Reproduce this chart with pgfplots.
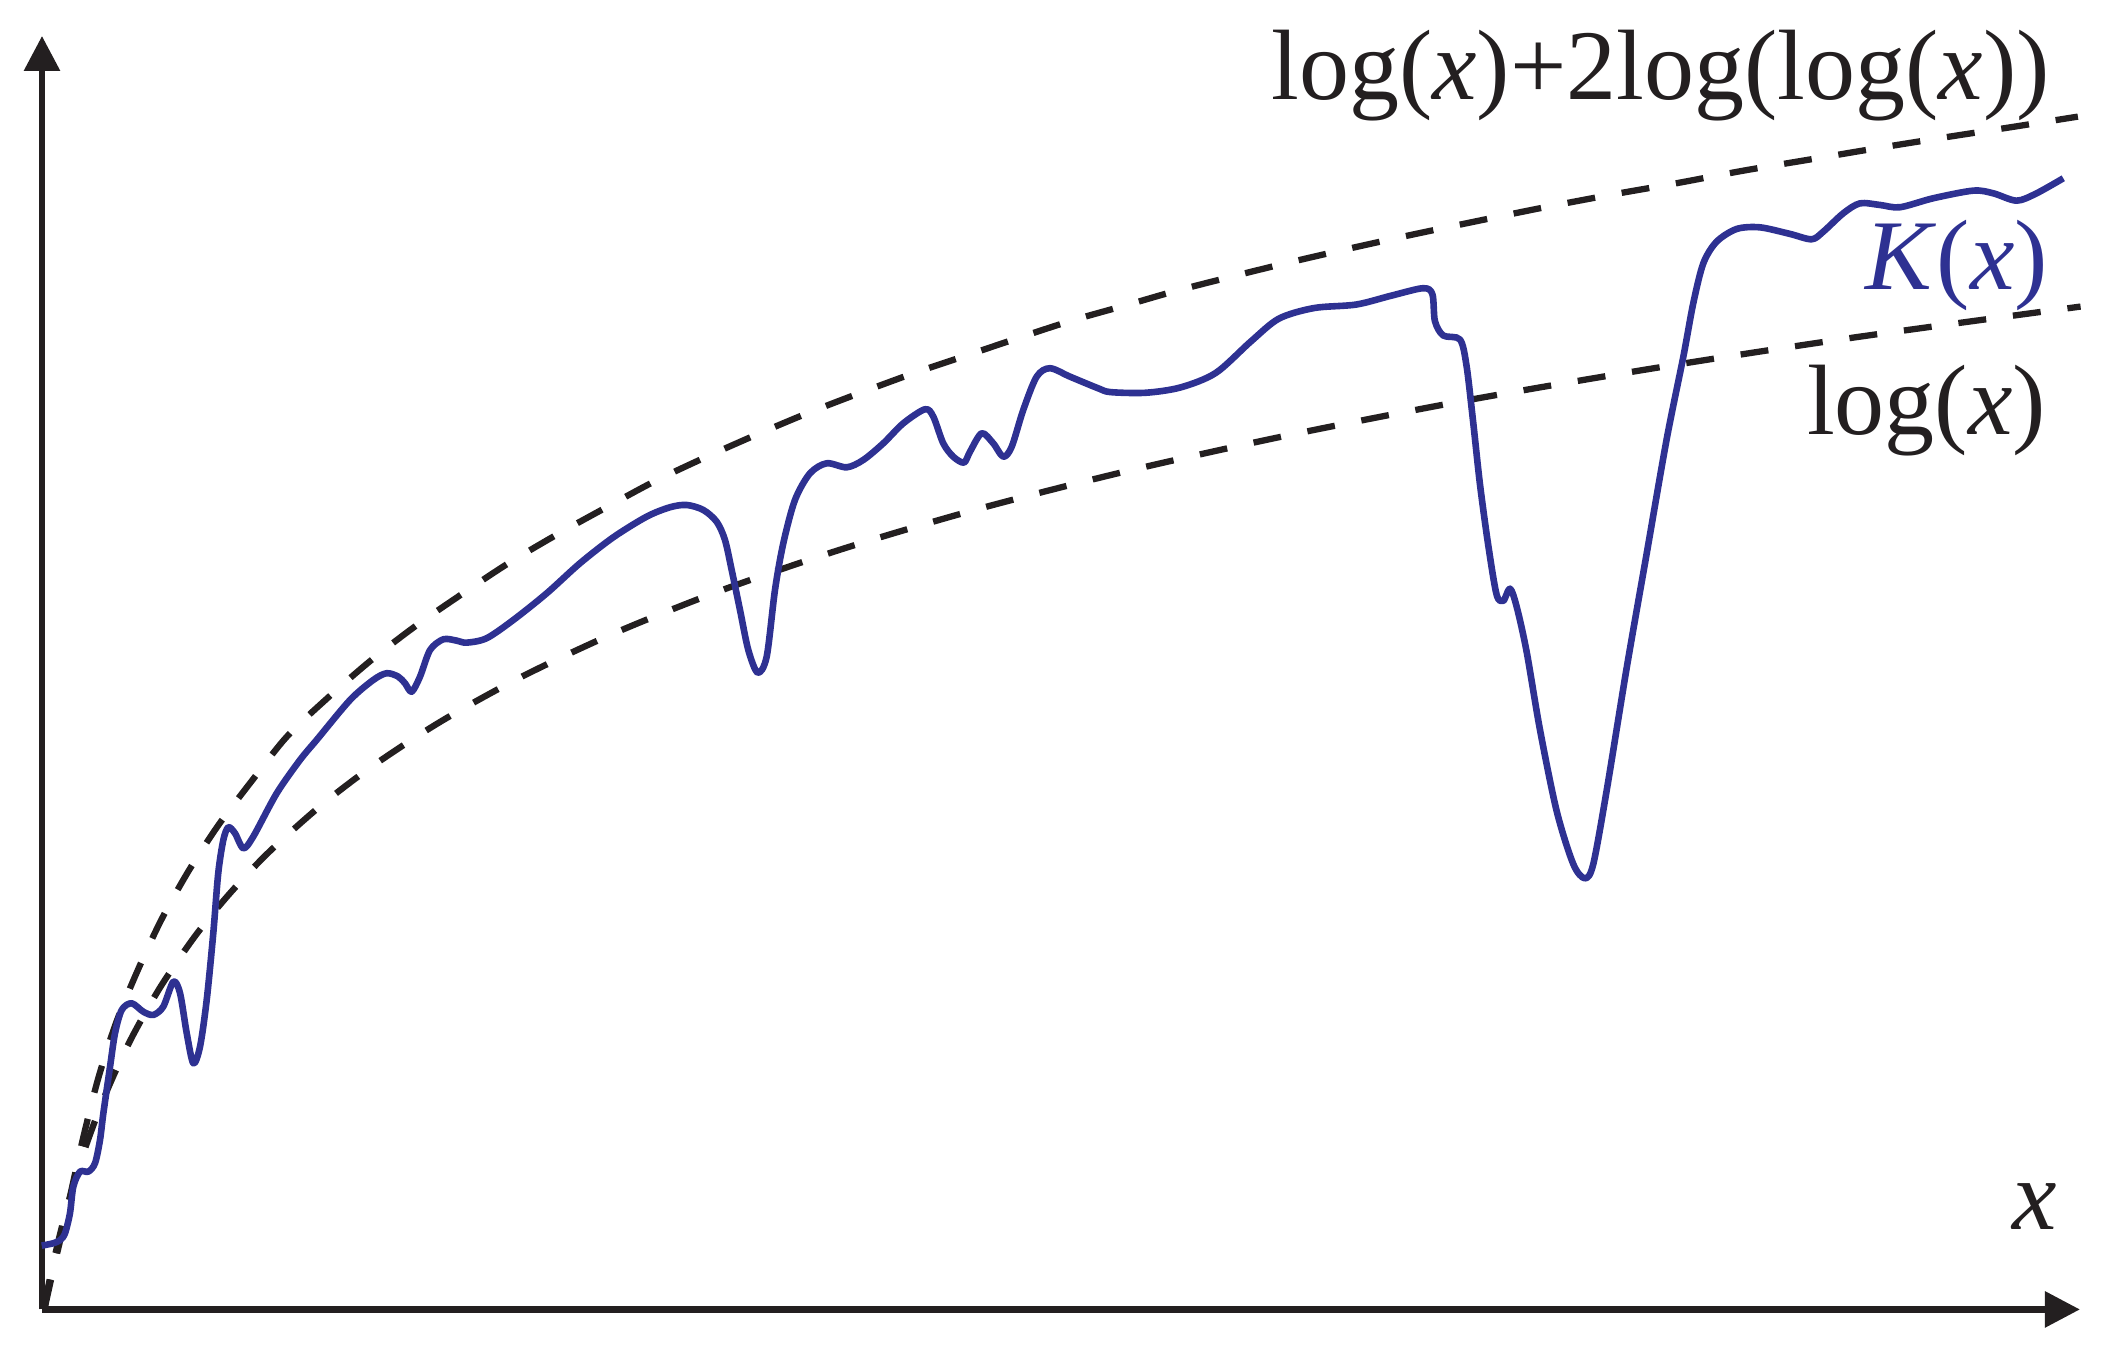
\documentclass[border=0pt]{standalone}
\usepackage{fontspec}
\setmainfont{Liberation Serif}
\usepackage{pgfplots}
\pgfplotsset{compat=1.18}
\usetikzlibrary{arrows.meta}
\definecolor{kblue}{RGB}{46,49,146}
\definecolor{kblack}{RGB}{35,31,32}
\begin{document}
\begin{tikzpicture}
\begin{axis}[
  x=0.134056mm, y=0.134056mm,
  xmin=31.33, xmax=1551.5, ymin=-976.8, ymax=-26.85,
  axis lines=left,
  axis line style={kblack, line width=0.62mm},
  x axis line style={-{Triangle[length=3.5mm,width=3.5mm]}},
  y axis line style={-{Triangle[length=3.5mm,width=3.5mm]}},
  xtick=\empty, ytick=\empty,
  clip=false,
  enlargelimits=false,
]
\path (axis cs:0,-1003) rectangle (axis cs:1568,0);
% log(x)
\addplot[kblack, line width=0.63mm, dash pattern=on 2.8mm off 2.7mm, smooth] coordinates {
(33.5,-975) (36,-959.7) (40,-941.0) (45,-919.8) (50,-900.7) (57,-876.6) (65,-852.2)
(75,-825.4) (86,-799.5) (100,-770.7) (120,-735.7) (145,-699.0) (170,-668.1)
(200,-636.2) (240,-600.4) (280,-570.0) (330,-537.5) (390,-504.4) (460,-471.6)
(540,-439.7) (630,-409.0) (730,-379.6) (840,-351.6) (960,-324.9) (1090,-299.4)
(1230,-275.3) (1380,-252.2) (1552,-228.7)
};
% log(x)+2log(log(x))
\addplot[kblack, line width=0.63mm, dash pattern=on 2.8mm off 2.7mm, smooth] coordinates {
(33.5,-975) (40,-946) (48,-912) (55,-880) (62.7,-846) (73.4,-804) (86.3,-763.8)
(102,-725.5) (120,-686.8) (140.5,-650) (163,-615.4) (188,-582.3) (214,-549.5)
(244,-521) (276.5,-492.8) (309.3,-467.5) (343.6,-443.8) (378.4,-420.7)
(414.5,-399.3) (451.3,-379) (487.8,-359.3) (525.2,-341.6) (563.7,-324.5)
(602.2,-308.3) (640.8,-293.4) (681.3,-278.5) (720,-265.5) (760,-252) (800,-239)
(840.7,-227.5) (881,-216) (950,-198.6) (1000,-186.9) (1050,-175.8) (1100,-165.3)
(1150,-155.1) (1200,-145.6) (1250,-136.8) (1300,-127.4) (1350,-119) (1400,-110.6)
(1450,-102.6) (1500,-94.9) (1550,-87)
};
% K(x)
\addplot[kblue, line width=0.66mm, smooth, tension=0.5, line join=round] coordinates {
(31.1,-929.2) (39.8,-927.4) (45,-925) (48.5,-920) (52.2,-905) (54.7,-885.2)
(59.7,-874) (65.9,-874) (70.9,-867.7) (74.6,-850.4) (77.1,-830.5) (82.1,-795.7)
(85.8,-770.8) (90.8,-753.4) (98.2,-748.4) (106.9,-754.7) (114.4,-757.1)
(121.8,-750.9) (129.3,-732.3) (134.3,-740.9) (139.3,-770.8) (144.2,-793.2)
(149.2,-780.8) (154.2,-745.9) (159.1,-696.2) (162.8,-651.4) (166.6,-626.6)
(170.3,-617.1) (175.3,-621.6) (181.5,-632.8) (188.9,-624.1) (206.4,-591.8)
(223.8,-566.9) (236.2,-552) (261.1,-522.2) (278.5,-507.2) (288.5,-502.2)
(297.1,-504.8) (302.1,-509.7) (307.1,-516) (313.3,-504.8) (320.8,-484.9)
(330.7,-476.9) (340.7,-477.9) (348.1,-479.4) (363,-476.1) (382.9,-462.5)
(407.8,-442.6) (432.6,-420.2) (457.5,-400.8) (482.4,-385.4) (499.8,-378.4)
(512.2,-376.7) (524.6,-380.4) (534.6,-389.2) (540.8,-402.8) (545.8,-425.2)
(552,-455) (558.2,-484.9) (565.2,-501.8) (571.9,-489.9) (578.1,-440.1)
(584.3,-405.3) (593,-373) (604.2,-353.1) (616.7,-345.6) (631.6,-348.6)
(644,-343.1) (658.9,-330.7) (673.8,-315.8) (690,-305.3) (696.2,-310.8)
(703.6,-330.7) (711.1,-340.7) (719.1,-345.1) (723.6,-336.9) (732.3,-323.2)
(740.9,-330.7) (748.4,-340.7) (754.7,-333.2) (763.3,-305.8) (773.3,-281)
(783.2,-274.7) (798.2,-281) (819.3,-289.7) (828.4,-292.5) (854.5,-293)
(880.7,-289) (906.9,-278.2) (933.1,-254.7) (954,-237.7) (980.2,-229.8)
(1011.6,-227.2) (1037.7,-220.6) (1061.5,-215) (1068.5,-219.5) (1070.4,-239.6)
(1076.6,-250.3) (1089.1,-253.3) (1094,-273.1) (1099,-315.7) (1104,-361.4)
(1110.2,-407) (1116.4,-443.6) (1121.4,-448.2) (1126.4,-439.1) (1131.4,-452.7)
(1138.8,-486.2) (1148.7,-544.1) (1161.2,-605) (1173.6,-644.6) (1182.3,-655.2)
(1188.5,-644.6) (1198.5,-589.7) (1213.4,-498.4) (1228.3,-413.2) (1243.2,-327.9)
(1255.7,-266) (1263.1,-226.2) (1270.6,-196.4) (1280.5,-180.3) (1295.5,-170.8)
(1312.9,-169.6) (1335.2,-174.5) (1351.4,-178.5) (1360.1,-172.8) (1375,-159.1)
(1387.4,-151.7) (1402.4,-152.9) (1417.3,-154.6) (1442.1,-147.9) (1472,-142.2)
(1486.9,-144.2) (1504.3,-149.7) (1519.2,-144.2) (1539.1,-133)
};
\node[anchor=base east, inner sep=0pt, text=kblack, font=\fontsize{28.45}{34}\selectfont]
  at (axis cs:1529.6,-74.6) {log(\textit{x})+2log(log(\textit{x}))};
\node[anchor=base east, inner sep=0pt, text=kblue, font=\fontsize{28.45}{34}\selectfont]
  at (axis cs:1528,-216.3) {\textit{K}(\textit{x})};
\node[anchor=base east, inner sep=0pt, text=kblack, font=\fontsize{28.45}{34}\selectfont]
  at (axis cs:1526.7,-324.5) {log(\textit{x})};
\node[anchor=base, inner sep=0pt, text=kblack, font=\fontsize{28.45}{34}\selectfont]
  at (axis cs:1518,-917.5) {\textit{x}};
\end{axis}
\end{tikzpicture}
\end{document}
